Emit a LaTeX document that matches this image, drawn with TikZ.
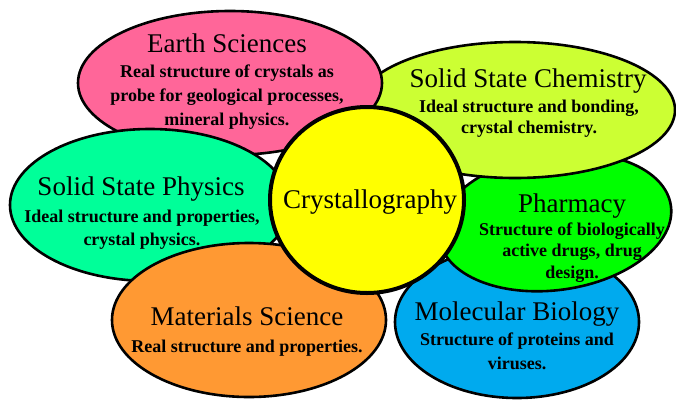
\documentclass[tikz,border=0pt]{standalone}
\usepackage{fontspec}
\setmainfont{Liberation Serif}
\usetikzlibrary{shapes.geometric}
\definecolor{cpink}{HTML}{FF6699}
\definecolor{clime}{HTML}{CCFF33}
\definecolor{cmint}{HTML}{00FF99}
\definecolor{cgreen}{HTML}{00FF00}
\definecolor{corange}{HTML}{FF9933}
\definecolor{cblue}{HTML}{00AAEE}
\definecolor{cyell}{HTML}{FFFF00}
\tikzset{
  blob/.style={ellipse, draw=black, line width=2.6pt, inner sep=0pt, outer sep=0pt},
  ttl/.style={anchor=base, inner sep=0pt, font=\fontsize{27}{27}\selectfont},
  bdy/.style={anchor=base, inner sep=0pt, align=center, font=\bfseries\fontsize{18}{#1}\selectfont},
  bdy/.default=24
}
\begin{document}
\begin{tikzpicture}[x=1pt,y=-1pt]
\useasboundingbox (0,0) rectangle (676,399);
% shapes, back to front
\node[blob, fill=cblue, minimum width=244pt, minimum height=152pt] (mb) at (517,322) {};
\node[blob, fill=cgreen, minimum width=234pt, minimum height=136pt, rotate=8] (ph) at (555,222) {};
\node[blob, fill=clime, minimum width=320pt, minimum height=136pt] (sc) at (515,110) {};
\node[blob, fill=cpink, minimum width=304pt, minimum height=144pt] (es) at (230,83) {};
\node[blob, fill=cmint, minimum width=280pt, minimum height=152pt] (sp) at (150,205) {};
\node[blob, fill=corange, minimum width=274pt, minimum height=154pt] (ms) at (249,320) {};
\node[ellipse, draw=black, line width=4pt, fill=cyell, inner sep=0pt, minimum width=194pt, minimum height=186pt] (cr) at (367,200) {};
% texts (multi-line bodies: base = baseline of last line)
\node[ttl] (crt) at (370,208) {Crystallography};
\node[ttl] (est) at (227,52) {Earth Sciences};
\node[bdy] (esb) at (227,125) {Real structure of crystals as\\probe for geological processes,\\mineral physics.};
\node[ttl] (sct) at (528,87) {Solid State Chemistry};
\node[bdy=21] (scb) at (529,133) {Ideal structure and bonding,\\crystal chemistry.};
\node[ttl] (spt) at (141,195) {Solid State Physics};
\node[bdy=23] (spb) at (142,245) {Ideal structure and properties,\\crystal physics.};
\node[ttl] (pht) at (572,212) {Pharmacy};
\node[bdy=21.5] (phb) at (572,278) {Structure of biologically\\active drugs, drug\\design.};
\node[ttl] (mst) at (247,325) {Materials Science};
\node[bdy] (msb) at (247,352) {Real structure and properties.};
\node[ttl] (mbt) at (517,320) {Molecular Biology};
\node[bdy] (mbb) at (517,369) {Structure of proteins and\\viruses.};
\end{tikzpicture}
\end{document}
